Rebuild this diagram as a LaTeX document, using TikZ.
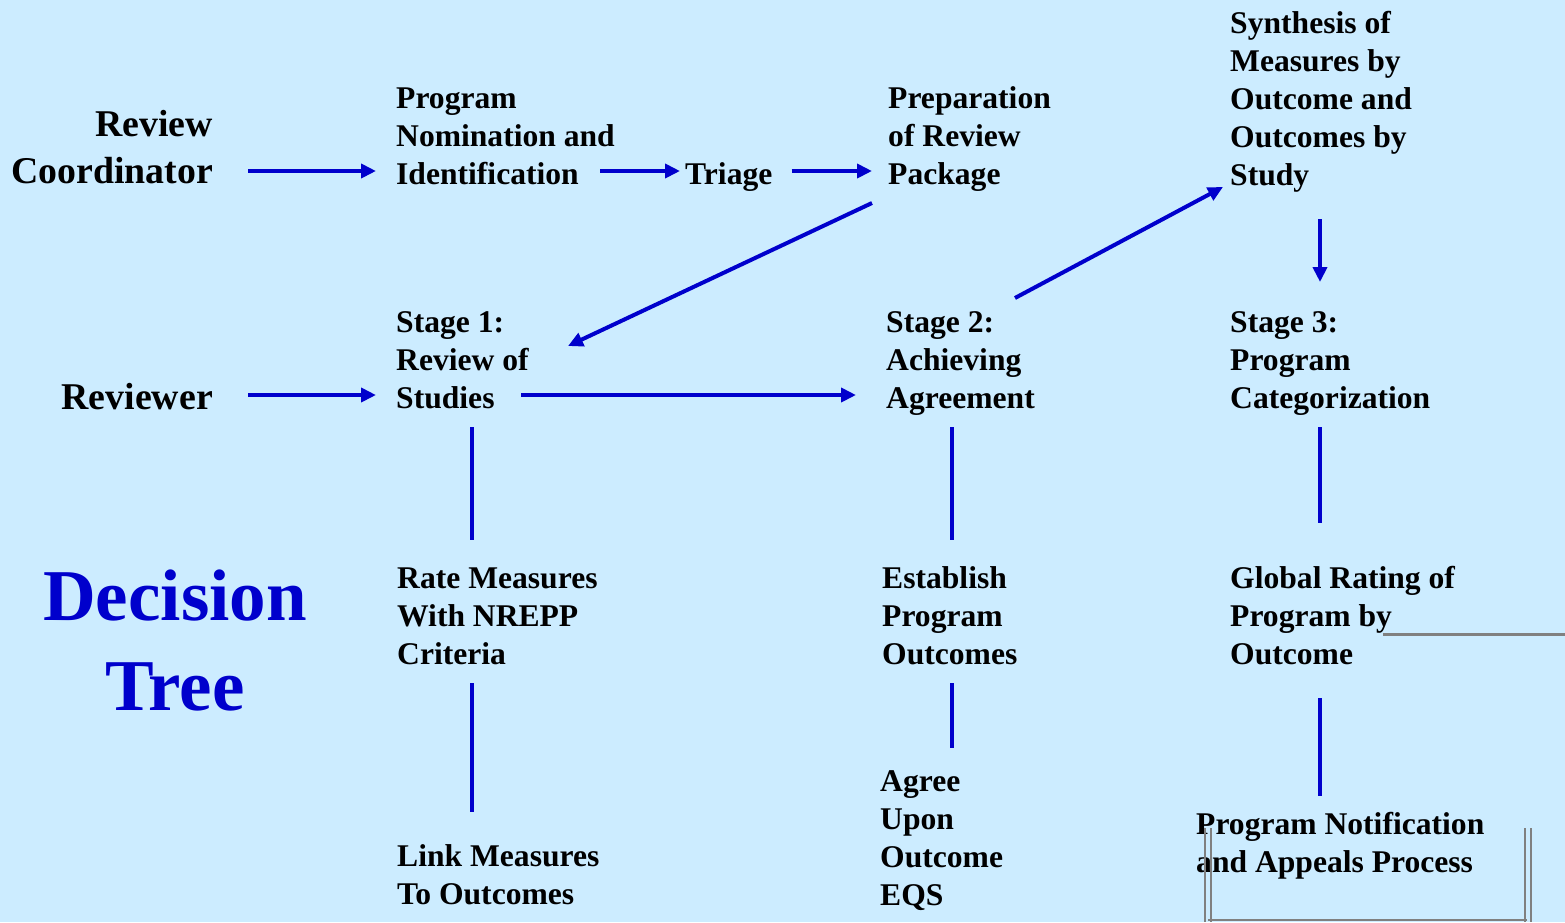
\documentclass[tikz,border=0pt]{standalone}
\usepackage{fontspec}
\setmainfont{Liberation Serif}
\usetikzlibrary{arrows.meta}
\definecolor{bgblue}{HTML}{CCECFF}
\definecolor{arrblue}{HTML}{0000CC}
\definecolor{framegray}{HTML}{808080}

\begin{document}
\begin{tikzpicture}
        [
            x = 1pt, y = -1pt,
            lbl/.style = {anchor = base west, inner sep = 0pt, align = left,
                font = \fontsize{31.6}{38}\selectfont\bfseries},
            role/.style = {anchor = base east, inner sep = 0pt, align = right,
                font = \fontsize{37.8}{47}\selectfont\bfseries},
            arr/.style = {draw = arrblue, line width = 4pt,
                -{Triangle[length = 15pt, width = 14pt]}},
            link/.style = {draw = arrblue, line width = 4pt},
            frame/.style = {draw = framegray, line width = 2pt},
        ]

        \fill[bgblue] (0,0) rectangle (1565,922);
        \useasboundingbox (0,0) rectangle (1565,922);

        \node[role] (coord) at (213,183) {Review\\Coordinator};
        \node[role] (reviewer) at (213,409) {Reviewer};
        \node[anchor = base, inner sep = 0pt, align = center, text = arrblue,
            font = \fontsize{73}{90}\selectfont\bfseries] (title) at (175,710) {Decision\\Tree};

        \node[lbl] (nomination) at (396,184) {Program\\Nomination and\\Identification};
        \node[lbl] (triage) at (685,184) {Triage};
        \node[lbl] (package) at (888,184) {Preparation\\of Review\\Package};
        \node[lbl] (synthesis) at (1230,185) {Synthesis of\\Measures by\\Outcome and\\Outcomes by\\Study};

        \node[lbl] (stage1) at (396,408) {Stage 1:\\Review of\\Studies};
        \node[lbl] (stage2) at (886,408) {Stage 2:\\Achieving\\Agreement};
        \node[lbl] (stage3) at (1230,408) {Stage 3:\\Program\\Categorization};

        \node[lbl] (rate) at (397,664) {Rate Measures\\With NREPP\\Criteria};
        \node[lbl] (establish) at (882,664) {Establish\\Program\\Outcomes};
        \node[lbl] (global) at (1230,664) {Global Rating of\\Program by\\Outcome};

        \node[lbl] (linkm) at (397,904) {Link Measures\\To Outcomes};
        \node[lbl] (agree) at (880,905) {Agree\\Upon\\Outcome\\EQS};
        \node[lbl] (notify) at (1196,872) {Program Notification\\and Appeals Process};

        \draw[arr] ([shift = {(35,-12)}]coord.base east) -- ([shift = {(-20,-13)}]nomination.base west);
        \draw[arr] ([shift = {(204,-13)}]nomination.base west) -- ([shift = {(-5,-13)}]triage.base west);
        \draw[arr] ([shift = {(19,-13)}]triage.base east) -- ([shift = {(-16,-13)}]package.base west);
        \draw[arr] ([shift = {(-16,19)}]package.base west) -- ([shift = {(172,-62)}]stage1.base west);
        \draw[arr] ([shift = {(129,-110)}]stage2.base west) -- ([shift = {(-7,2)}]synthesis.base west);
        \draw[arr] ([shift = {(90,34)}]synthesis.base west) -- ([shift = {(90,-126)}]stage3.base west);
        \draw[arr] ([shift = {(35,-14)}]reviewer.base east) -- ([shift = {(-20,-13)}]stage1.base west);
        \draw[arr] ([shift = {(125,-13)}]stage1.base west) -- ([shift = {(-30,-13)}]stage2.base west);

        \draw[link] ([shift = {(76,19)}]stage1.base west) -- ([shift = {(75,-124)}]rate.base west);
        \draw[link] ([shift = {(66,19)}]stage2.base west) -- ([shift = {(70,-124)}]establish.base west);
        \draw[link] ([shift = {(90,19)}]stage3.base west) -- ([shift = {(90,-141)}]global.base west);
        \draw[link] ([shift = {(75,19)}]rate.base west) -- ([shift = {(75,-92)}]linkm.base west);
        \draw[link] ([shift = {(70,19)}]establish.base west) -- ([shift = {(72,-157)}]agree.base west);
        \draw[link] ([shift = {(90,34)}]global.base west) -- ([shift = {(124,-76)}]notify.base west);

        \draw[draw = framegray, line width = 3pt] (1383,634) -- (1565,634);
        \draw[frame] (1205,828) -- (1205,922);
        \draw[frame] (1211,828) -- (1211,922);
        \draw[frame] (1525,828) -- (1525,922);
        \draw[frame] (1531,828) -- (1531,922);
        \draw[frame] (1208,920) -- (1527,920);

    \end{tikzpicture}
\end{document}
